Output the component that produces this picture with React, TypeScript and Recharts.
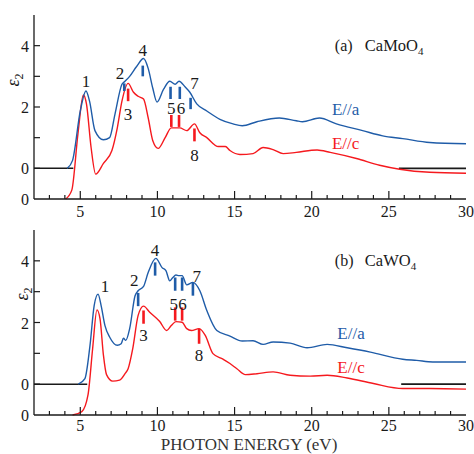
import React from 'react'
import { LineChart, Line, XAxis, YAxis, ReferenceLine, ReferenceDot } from 'recharts'

// photon energy (eV) / eps2 readings, E//a curves are drawn shifted up by BLUE_SHIFT
const BLUE_SHIFT = 1

const moE_a: [number, number][] = [
  [4.15, 0], [4.5, 0.26], [5.0, 1.87], [5.37, 2.52], [5.6, 2.19], [5.95, 1.23], [6.5, 0.93],
  [6.9, 1.0], [7.25, 1.77], [7.7, 2.74], [7.9, 2.84], [8.2, 3.0], [8.65, 3.32], [9.1, 3.58],
  [9.4, 3.26], [9.7, 2.61], [9.97, 2.16], [10.4, 2.58], [10.8, 2.84], [11.15, 2.74], [11.4, 2.84],
  [11.8, 2.65], [12.1, 2.48], [12.55, 2.1], [13.2, 1.87], [14.05, 1.6], [14.9, 1.45], [15.5, 1.39],
  [16.45, 1.52], [17.9, 1.64], [19.0, 1.55], [19.4, 1.52], [20.5, 1.64], [21.6, 1.45], [23.3, 1.23],
  [24.6, 1.06], [25.9, 0.97], [27.65, 0.84], [30, 0.8],
]

const moE_c: [number, number][] = [
  [4.05, 0], [4.45, 0.29], [4.85, 2.13], [5.2, 3.39], [5.4, 3.1], [5.7, 1.68], [6.0, 0.81],
  [6.5, 1.16], [7.05, 1.58], [7.4, 2.32], [7.7, 3.19], [8.1, 3.77], [8.45, 3.48], [8.75, 3.35],
  [9.1, 3.26], [9.4, 2.65], [9.7, 1.9], [10.05, 1.65], [10.5, 2.0], [10.9, 2.32], [11.45, 2.32],
  [11.9, 2.23], [12.4, 2.45], [12.75, 2.16], [13.2, 2.0], [13.95, 1.71], [14.4, 1.71], [14.7, 1.58],
  [15.35, 1.45], [16.2, 1.48], [16.85, 1.68], [17.5, 1.61], [18.15, 1.48], [19.0, 1.52], [20.35, 1.6],
  [21.2, 1.52], [22.9, 1.32], [24.4, 1.1], [25.7, 0.97], [27.65, 0.87], [30, 0.84],
]

const wE_a: [number, number][] = [
  [4.87, 0], [5.3, 0.18], [5.63, 1.26], [5.9, 2.55], [6.15, 2.92], [6.35, 2.55], [6.6, 1.9],
  [6.9, 1.53], [7.4, 1.26], [7.65, 1.31], [7.8, 1.49], [7.95, 1.42], [8.2, 1.8], [8.55, 2.87],
  [8.75, 3.03], [9.1, 3.17], [9.4, 3.62], [9.9, 4.08], [10.3, 3.78], [10.55, 3.68], [10.8, 3.35],
  [11.0, 3.46], [11.2, 3.54], [11.4, 3.52], [11.6, 3.52], [11.9, 3.22], [12.3, 3.3], [12.75, 3.03],
  [13.2, 2.39], [13.85, 1.74], [14.7, 1.56], [15.5, 1.4], [16.2, 1.41], [16.85, 1.29], [17.5, 1.37],
  [18.6, 1.33], [19.7, 1.18], [21.0, 1.29], [22.3, 1.18], [23.8, 1.04], [25.9, 0.81], [26.8, 0.77],
  [27.85, 0.72], [30, 0.72],
]

const wE_c: [number, number][] = [
  [4.5, 0], [5.1, 0.11], [5.5, 0.65], [5.8, 2.15], [6.08, 3.41], [6.28, 3.12], [6.5, 1.94],
  [6.7, 1.31], [7.1, 1.1], [7.55, 1.13], [7.9, 1.34], [8.1, 1.5], [8.4, 2.15], [8.75, 3.23],
  [9.1, 3.53], [9.5, 3.33], [10.15, 3.03], [10.6, 2.74], [10.9, 2.9], [11.2, 3.03], [11.6, 3.01],
  [11.9, 2.8], [12.2, 2.74], [12.7, 2.8], [13.1, 2.58], [13.6, 1.99], [14.25, 1.81], [14.7, 1.67],
  [15.15, 1.5], [15.7, 1.31], [16.45, 1.34], [17.5, 1.4], [18.6, 1.29], [19.9, 1.26], [21.0, 1.29],
  [22.3, 1.2], [24.0, 1.02], [25.9, 0.86], [27.65, 0.86], [30, 0.84],
]

// peak labels: [energy, height, text]
const moLabels: [number, number, string][] = [
  [5.37, 3.84, '1'], [7.57, 4.1, '2'], [8.1, 2.77, '3'], [9.05, 4.87, '4'],
  [10.9, 2.97, '5'], [11.52, 2.97, '6'], [12.4, 3.77, '7'], [12.4, 1.45, '8'],
]
// peak markers: [energy, from, to]
const moMarksA: [number, number, number][] = [
  [7.85, 3.52, 3.77], [9.05, 4.0, 4.35], [10.85, 3.26, 3.66], [11.45, 3.26, 3.66], [12.15, 2.93, 3.3],
]
const moMarksC: [number, number, number][] = [
  [8.1, 3.19, 3.6], [10.9, 2.35, 2.74], [11.4, 2.35, 2.74], [12.4, 1.88, 2.3],
]

const wLabels: [number, number, string][] = [
  [6.6, 4.19, '1'], [8.5, 4.38, '2'], [9.1, 2.58, '3'], [9.85, 5.34, '4'],
  [11.05, 3.6, '5'], [11.62, 3.6, '6'], [12.55, 4.52, '7'], [12.7, 1.94, '8'],
]
const wMarksA: [number, number, number][] = [
  [8.75, 3.53, 3.96], [9.85, 4.52, 4.95], [11.15, 4.03, 4.46], [11.6, 4.03, 4.46], [12.3, 3.87, 4.3],
]
const wMarksC: [number, number, number][] = [
  [9.1, 2.96, 3.39], [11.15, 3.06, 3.49], [11.6, 3.06, 3.49], [12.7, 2.31, 2.8],
]

const X_TICKS = [2, 3, 4, 5, 6, 7, 8, 9, 10, 11, 12, 13, 14, 15, 16, 17, 18, 19, 20, 21, 22, 23, 24, 25, 26, 27, 28, 29, 30]
const Y_TICKS = [0, 1, 2, 3, 4, 5, 6]
const Y_TEXT: Record<number, string> = { 0: '0', 1: '0', 3: '2', 5: '4' }

const BLUE = '#1f5ca8'
const RED = '#f5191e'
const INK = '#1a1a1a'
const FONT = "'Liberation Serif', 'Times New Roman', 'DejaVu Serif', serif"

function toPts(rows: [number, number][], shift = 0) {
  return rows.map(([x, y]) => ({ x, y: y + shift }))
}

const txt = (size: number) => ({ fontFamily: FONT, fontSize: size })

function XTick({ x, y, payload, side, drop = 18 }: any) {
  const v = payload.value
  const major = v % 5 === 0
  const len = major ? 8 : 4
  const dir = side === 'top' ? 1 : -1
  const showLine = v > 2 && v < 30
  return (
    <g>
      {showLine && <line x1={x} y1={y} x2={x} y2={y + dir * len} stroke={INK} strokeWidth={1.2} />}
      {side === 'bottom' && major && (
        <text x={x} y={y + drop} textAnchor="middle" fill={INK} style={txt(16)}>{v}</text>
      )}
    </g>
  )
}

function YTick({ x, y, payload, side }: any) {
  const v = payload.value
  const dir = side === 'left' ? 1 : -1
  const showLine = v > 0 && v < 6
  return (
    <g>
      {showLine && <line x1={x} y1={y} x2={x + dir * 6} y2={y} stroke={INK} strokeWidth={1.2} />}
      {side === 'left' && Y_TEXT[v] && (
        <text x={x - 5} y={y + 6} textAnchor="end" fill={INK} style={txt(16)}>{Y_TEXT[v]}</text>
      )}
    </g>
  )
}

function note(key: string, x: number, y: number, render: (cx: number, cy: number) => React.ReactNode) {
  return (
    <ReferenceDot
      key={key}
      xAxisId="b"
      yAxisId="l"
      x={x}
      y={y}
      r={1}
      fill="none"
      stroke="none"
      ifOverflow="visible"
      label={{ content: (p: any) => render(p.viewBox.x + p.viewBox.width / 2, p.viewBox.y + p.viewBox.height / 2) }}
    />
  )
}

interface PanelProps {
  top: number
  height: number
  bottomPad: number
  tickDrop: number
  blue: [number, number][]
  red: [number, number][]
  labels: [number, number, string][]
  marksA: [number, number, number][]
  marksC: [number, number, number][]
  title: string
  tag: string
  blackLeft: number
  blackRight: number
  legendX: number
  legendA: number
  legendC: number
  epsX: number
  epsY: number
  xTitle?: string
}

function Panel(p: PanelProps) {
  return (
    <div style={{ position: 'absolute', left: 0, top: p.top }}>
      <LineChart width={474} height={p.height} margin={{ top: 15, right: 8, bottom: 0, left: 0 }}>
        <XAxis
          xAxisId="t"
          orientation="top"
          type="number"
          dataKey="x"
          domain={[2, 30]}
          ticks={X_TICKS}
          interval={0}
          height={0}
          tickLine={false}
          tickSize={0}
          tickMargin={0}
          axisLine={{ stroke: INK, strokeWidth: 1.3 }}
          tick={<XTick side="top" />}
        />
        <XAxis
          xAxisId="b"
          orientation="bottom"
          type="number"
          dataKey="x"
          domain={[2, 30]}
          ticks={X_TICKS}
          interval={0}
          height={p.bottomPad}
          tickLine={false}
          tickSize={0}
          tickMargin={0}
          axisLine={{ stroke: INK, strokeWidth: 1.3 }}
          tick={<XTick side="bottom" drop={p.tickDrop} />}
          label={
            p.xTitle
              ? {
                  content: (lp: any) => (
                    <text x={lp.viewBox.x + lp.viewBox.width / 2 - 1} y={lp.viewBox.y + lp.viewBox.height - 4} textAnchor="middle" fill="#333" style={txt(17)}>
                      {p.xTitle}
                    </text>
                  ),
                }
              : undefined
          }
        />
        <YAxis
          yAxisId="l"
          orientation="left"
          type="number"
          domain={[0, 6]}
          ticks={Y_TICKS}
          interval={0}
          width={34}
          tickLine={false}
          tickSize={0}
          tickMargin={0}
          axisLine={{ stroke: INK, strokeWidth: 1.3 }}
          tick={<YTick side="left" />}
          label={{
            content: () => (
              <text
                transform={`translate(${p.epsX},${p.epsY}) rotate(-90)`}
                textAnchor="middle"
                fill={INK}
                style={txt(18)}
              >
                <tspan fontStyle="italic">ε</tspan>
                <tspan fontSize={12} dy={4}>2</tspan>
              </text>
            ),
          }}
        />
        <YAxis
          yAxisId="r"
          orientation="right"
          type="number"
          domain={[0, 6]}
          ticks={Y_TICKS}
          interval={0}
          width={0}
          tickLine={false}
          tickSize={0}
          tickMargin={0}
          axisLine={{ stroke: INK, strokeWidth: 1.3 }}
          tick={<YTick side="right" />}
        />

        <ReferenceLine xAxisId="b" yAxisId="l" segment={[{ x: 2, y: 1 }, { x: p.blackLeft, y: 1 }]} stroke={INK} strokeWidth={1.5} />
        <ReferenceLine xAxisId="b" yAxisId="l" segment={[{ x: p.blackRight, y: 1 }, { x: 30, y: 1 }]} stroke={INK} strokeWidth={1.8} />

        <Line
          xAxisId="b"
          yAxisId="l"
          data={toPts(p.red)}
          dataKey="y"
          type="monotone"
          stroke={RED}
          strokeWidth={1.4}
          dot={false}
          activeDot={false}
          isAnimationActive={false}
        />
        <Line
          xAxisId="b"
          yAxisId="l"
          data={toPts(p.blue, BLUE_SHIFT)}
          dataKey="y"
          type="monotone"
          stroke={BLUE}
          strokeWidth={1.4}
          dot={false}
          activeDot={false}
          isAnimationActive={false}
        />

        {p.marksA.map(([x, y1, y2], i) => (
          <ReferenceLine key={'ma' + i} xAxisId="b" yAxisId="l" segment={[{ x, y: y1 }, { x, y: y2 }]} stroke={BLUE} strokeWidth={2.6} />
        ))}
        {p.marksC.map(([x, y1, y2], i) => (
          <ReferenceLine key={'mc' + i} xAxisId="b" yAxisId="l" segment={[{ x, y: y1 }, { x, y: y2 }]} stroke={RED} strokeWidth={2.6} />
        ))}

        {p.labels.map(([x, y, t], i) =>
          note('lb' + i, x, y, (cx, cy) => (
            <text x={cx} y={cy + 6} textAnchor="middle" fill={INK} style={txt(17)}>{t}</text>
          ))
        )}
        {note('ea', p.legendX, p.legendA, (cx, cy) => (
          <text x={cx} y={cy + 6} textAnchor="middle" fill={BLUE} style={txt(17)}>E//a</text>
        ))}
        {note('ec', p.legendX, p.legendC, (cx, cy) => (
          <text x={cx} y={cy + 6} textAnchor="middle" fill={RED} style={txt(17)}>E//c</text>
        ))}
        {note('title', 21.5, 4.98, (cx, cy) => (
          <g>
            <text x={cx} y={cy + 5} textAnchor="start" fill={INK} style={txt(16)}>{p.tag}</text>
            <text x={cx + 30} y={cy + 5} textAnchor="start" fill={INK} style={txt(16.5)}>
              <tspan>{p.title}</tspan>
              <tspan fontSize={11} dy={4}>4</tspan>
            </text>
          </g>
        ))}
      </LineChart>
    </div>
  )
}

export default function App() {
  return (
    <div
      style={{
        position: 'absolute',
        left: 0,
        top: 0,
        width: 474,
        height: 454,
        background: '#fff',
        overflow: 'hidden',
        fontFamily: FONT,
      }}
    >
      <Panel
        top={0}
        height={224}
        bottomPad={25}
        tickDrop={18}
        blue={moE_a}
        red={moE_c}
        labels={moLabels}
        marksA={moMarksA}
        marksC={moMarksC}
        tag="(a)"
        title="CaMoO"
        blackLeft={4.55}
        blackRight={25.65}
        legendX={22.2}
        legendA={2.93}
        legendC={1.84}
        epsX={19}
        epsY={80}
      />
      <Panel
        top={215}
        height={239}
        bottomPad={39}
        tickDrop={16}
        blue={wE_a}
        red={wE_c}
        labels={wLabels}
        marksA={wMarksA}
        marksC={wMarksC}
        tag="(b)"
        title="CaWO"
        blackLeft={5.45}
        blackRight={25.8}
        legendX={22.55}
        legendA={2.65}
        legendC={1.55}
        epsX={28}
        epsY={79}
        xTitle="PHOTON ENERGY (eV)"
      />
    </div>
  )
}
